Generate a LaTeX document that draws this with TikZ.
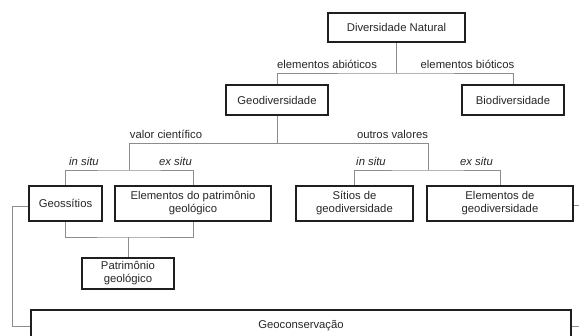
\documentclass[tikz,border=0pt]{standalone}
\usepackage{fontspec}
\setmainfont{Liberation Sans}
\begin{document}
\begin{tikzpicture}[x=1pt,y=-1pt,
  box/.style={draw=black!88, line width=2.4pt, align=center, inner sep=0pt,
    font=\fontsize{11.3}{13}\selectfont, text=black!85},
  conn/.style={draw=black!45, line width=0.8pt},
  lbl/.style={anchor=base, inner sep=0pt, font=\fontsize{11.3}{13}\selectfont, text=black!85},
  ilbl/.style={lbl, font=\fontsize{11.3}{13}\selectfont\itshape}]
\useasboundingbox (0,0) rectangle (579,336);
\clip (0,0) rectangle (579,336);
% nodes
\node[box, minimum width=137, minimum height=29] (dn) at (396.5,27.5) {Diversidade Natural};
\node[box, minimum width=102, minimum height=30] (geo) at (277,100) {Geodiversidade};
\node[box, minimum width=102, minimum height=30] (bio) at (513,100) {Biodiversidade};
\node[box, minimum width=73, minimum height=35] (geos) at (65.5,203.5) {Geossítios};
\node[box, minimum width=156, minimum height=35] (epg) at (193,203.5) {Elementos do patrimônio\\geológico};
\node[box, minimum width=117, minimum height=35] (sit) at (354.5,203.5) {Sítios de\\geodiversidade};
\node[box, minimum width=146, minimum height=35] (egd) at (500,203.5) {Elementos de\\geodiversidade};
\node[box, minimum width=92, minimum height=31] (pat) at (128,273.5) {Patrimônio\\geológico};
\node[box, minimum width=540, minimum height=32] (gc) at (301,326) {Geoconservação};
% junction coordinates
\coordinate (j1) at (396.5,73);
\coordinate (v1) at (129,143);
\coordinate (v2) at (428,143);
\coordinate (g1) at (129,170);
\coordinate (g2) at (428,170);
\coordinate (m1) at (128,237);
\coordinate (le) at (12,206);
\coordinate (re1) at (579,205);
\coordinate (re2) at (579,326);
% connectors
\draw[conn] (dn.south) -- (j1);
\draw[conn] (geo.north) |- (j1) -| (bio.north);
\draw[conn] (geo.south) -- (geo.south |- v1);
\draw[conn] (v1) -- (v2);
\draw[conn] (v1) -- (g1);
\draw[conn] (v2) -- (g2);
\draw[conn] (geos.north) |- (g1) -| (epg.north);
\draw[conn] (sit.north) |- (g2) -| (egd.north);
\draw[conn] (geos.south) |- (m1) -| (epg.south);
\draw[conn] (m1) -- (pat.north);
\draw[conn] (geos.west |- le) -- (le) |- (gc.west);
\draw[conn] (egd.east |- re1) -- (re1);
\draw[conn] (gc.east) -- (re2);
% labels
\node[lbl] (la1) at (327,69) {elementos abióticos};
\node[lbl] (la2) at (467.5,69) {elementos bióticos};
\node[lbl] (la3) at (166,139) {valor científico};
\node[lbl] (la4) at (392.5,139) {outros valores};
\node[ilbl] (la5) at (84,166) {in situ};
\node[ilbl] (la6) at (175.5,166) {ex situ};
\node[ilbl] (la7) at (371,166) {in situ};
\node[ilbl] (la8) at (476.5,166) {ex situ};
\end{tikzpicture}
\end{document}
